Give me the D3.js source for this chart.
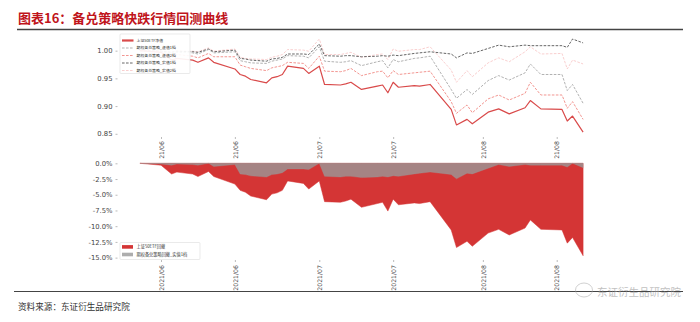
<!DOCTYPE html>
<html><head><meta charset="utf-8">
<script src="https://cdn.jsdelivr.net/npm/d3@7/dist/d3.min.js"></script>
<style>body{margin:0;background:#fff}svg{display:block}</style>
</head><body>
<svg id="c" width="700" height="322"></svg>
<script>
const dates = ["2021-05-28","2021-06-01","2021-06-03","2021-06-04","2021-06-07","2021-06-08","2021-06-10","2021-06-11","2021-06-15","2021-06-16","2021-06-17","2021-06-18","2021-06-21","2021-06-22","2021-06-23","2021-06-24","2021-06-25","2021-06-28","2021-06-29","2021-07-01","2021-07-02","2021-07-05","2021-07-06","2021-07-07","2021-07-09","2021-07-12","2021-07-13","2021-07-14","2021-07-15","2021-07-16","2021-07-19","2021-07-20","2021-07-22","2021-07-26","2021-07-27","2021-07-29","2021-07-30","2021-08-02","2021-08-04","2021-08-06","2021-08-09","2021-08-10","2021-08-12","2021-08-16","2021-08-17","2021-08-18","2021-08-20"];
const etf50 = [1.000,0.997,0.983,0.986,0.983,0.979,0.987,0.979,0.967,0.957,0.954,0.948,0.942,0.951,0.953,0.957,0.972,0.968,0.959,0.972,0.939,0.938,0.940,0.943,0.930,0.936,0.938,0.924,0.943,0.934,0.937,0.936,0.939,0.894,0.866,0.876,0.868,0.889,0.895,0.886,0.897,0.910,0.895,0.894,0.873,0.882,0.853];
const otm1 = [1.000,0.999,0.995,0.997,0.996,0.994,1.002,0.996,0.998,0.982,0.980,0.978,0.977,0.981,0.983,0.985,0.991,0.990,0.987,1.007,0.981,0.979,0.980,0.982,0.973,0.980,0.982,0.969,0.984,0.980,0.986,0.987,0.990,0.930,0.914,0.930,0.921,0.946,0.955,0.947,0.960,0.976,0.957,0.957,0.928,0.939,0.905];
const otm2 = [1.000,0.998,0.990,0.993,0.990,0.987,0.995,0.989,0.989,0.974,0.971,0.968,0.964,0.969,0.971,0.973,0.979,0.977,0.968,0.990,0.963,0.962,0.964,0.968,0.955,0.962,0.963,0.951,0.964,0.957,0.960,0.961,0.963,0.908,0.887,0.902,0.888,0.913,0.920,0.911,0.923,0.943,0.920,0.920,0.896,0.908,0.876];
const itm1 = [1.000,0.999,0.997,0.999,0.998,0.997,1.003,0.998,1.001,0.986,0.985,0.983,0.981,0.985,0.986,0.988,0.994,0.994,0.993,1.012,0.991,0.990,0.991,0.991,0.989,0.990,0.991,0.990,0.992,0.991,0.995,0.996,0.998,0.994,0.987,0.996,0.995,1.004,1.010,1.007,1.010,1.009,1.009,1.009,1.006,1.021,1.014];
const itm2 = [1.000,1.000,0.998,1.000,0.999,0.998,1.005,0.999,1.003,0.988,0.986,0.985,0.984,0.988,0.990,0.993,1.002,1.001,0.999,1.021,0.993,0.993,0.995,0.997,0.988,0.993,0.994,0.984,1.003,0.999,1.002,1.002,1.007,0.965,0.943,0.964,0.953,0.978,0.987,0.980,0.998,1.007,0.994,0.995,0.967,0.983,0.976];

const seriesNames = ["上证50ETF净值","期权备兑策略_虚值1档","期权备兑策略_虚值2档","期权备兑策略_实值1档","期权备兑策略_实值2档"];
const ddNames = ["上证50ETF回撤","期权备兑策略回撤_实值1档"];
const xTicks = ["2021-06-01","2021-06-15","2021-07-01","2021-07-15","2021-08-01","2021-08-15"];
const yTopTicks = [0.85,0.90,0.95,1.00];
const yBotTicks = [0,-0.025,-0.05,-0.075,-0.10,-0.125,-0.15];
const titleText = "图表16：备兑策略快跌行情回测曲线";
const sourceText = "资料来源：东证衍生品研究院";
const watermarkText = "东证衍生品研究院";

const parse = d3.timeParse("%Y-%m-%d");
const D = dates.map(parse);
const svg = d3.select("#c");

const x = d3.scaleTime().domain([parse("2021-05-24"), parse("2021-08-24")]).range([118.8, 604.2]);
const yT = d3.scaleLinear().domain([0.846, 1.029]).range([136.0, 34.6]);
const yB = d3.scaleLinear().domain([-0.153, 0.0075]).range([259.5, 158.6]);

// Title & frame lines
svg.append("text").attr("x",18).attr("y",23).attr("fill","#c0141b")
  .attr("font-family","'Noto Sans CJK SC',sans-serif").attr("font-weight","bold").attr("font-size",13).text(titleText);
svg.append("line").attr("x1",17).attr("x2",683).attr("y1",29.5).attr("y2",29.5).attr("stroke","#444").attr("stroke-width",1.3);
svg.append("line").attr("x1",14).attr("x2",683).attr("y1",291.5).attr("y2",291.5).attr("stroke","#444").attr("stroke-width",1);
svg.append("text").attr("x",18).attr("y",309.5).attr("fill","#333")
  .attr("font-family","'Noto Sans CJK SC',sans-serif").attr("font-size",8.6).text(sourceText);

// Top lines
const line = v => d3.line().x((d,i)=>x(D[i])).y(d=>yT(d))(v);
const styles = [
  {v:etf50, c:"#d94a4a", w:1.2, dash:null},
  {v:otm1, c:"#a8a8a8", w:0.9, dash:"2.6,1.4"},
  {v:otm2, c:"#f08a84", w:0.9, dash:"2.6,1.4"},
  {v:itm1, c:"#555555", w:0.9, dash:"2.6,1.4"},
  {v:itm2, c:"#f8c9c9", w:0.9, dash:"2.6,1.4"}
];
const drawOrder = [4,3,1,2,0];
drawOrder.forEach(k=>{
  const s = styles[k];
  svg.append("path").attr("d",line(s.v)).attr("fill","none").attr("stroke",s.c)
    .attr("stroke-width",s.w).attr("stroke-dasharray",s.dash).attr("stroke-linejoin","round");
});

// Top axes
const fmtTick = sel => { sel.select(".domain").remove(); sel.selectAll("line").attr("stroke","#bbb"); sel.selectAll("text").attr("fill","#444"); };
svg.append("g").attr("transform","translate(117.5,0)")
  .call(d3.axisLeft(yT).tickValues(yTopTicks).tickFormat(d3.format(".2f")).tickSize(2).tickPadding(3))
  .attr("font-family","'DejaVu Sans',sans-serif").attr("font-size",6.8).call(fmtTick);
const xt = svg.append("g").attr("transform","translate(0,137)")
  .call(d3.axisBottom(x).tickValues(xTicks.map(parse)).tickFormat(d3.timeFormat("%y/%m")).tickSize(2))
  .attr("font-family","'DejaVu Sans',sans-serif").attr("font-size",6.2).call(fmtTick);
xt.selectAll("text").attr("transform","rotate(-90)").attr("text-anchor","end").attr("x",-4).attr("y",0).attr("dy","0.35em");

// Top legend
const lg = svg.append("g");
lg.append("rect").attr("x",120).attr("y",34).attr("width",70).attr("height",39.5).attr("fill","#fff").attr("fill-opacity",0.92).attr("stroke","#dcdcdc").attr("stroke-width",0.6).attr("rx",1);
styles.forEach((s,i)=>{
  const yy = 40.5 + i*7.5;
  lg.append("line").attr("x1",122).attr("x2",133.5).attr("y1",yy).attr("y2",yy).attr("stroke",s.c)
    .attr("stroke-width", i===0?2.2:0.9).attr("stroke-dasharray",s.dash);
  lg.append("text").attr("x",136.5).attr("y",yy).attr("dy","0.35em").attr("fill","#333")
    .attr("font-family","'Noto Sans CJK SC',sans-serif").attr("font-size",3.9).text(seriesNames[i]);
});

// Drawdowns
const dd = v => { let m=-Infinity; return v.map(d=>{ m=Math.max(m,d); return d/m-1; }); };
const ddRed = dd(etf50), ddGray = dd(itm1);
const area = v => d3.area().x((d,i)=>x(D[i])).y0(yB(0)).y1(d=>yB(d))(v);
svg.append("path").attr("d",area(ddRed)).attr("fill","#d43535").attr("stroke","#d43535").attr("stroke-width",0.5);
svg.append("path").attr("d",area(ddGray)).attr("fill","#999").attr("fill-opacity",0.8).attr("stroke","#999").attr("stroke-opacity",0.6).attr("stroke-width",0.5);

// Bottom axes
svg.append("g").attr("transform","translate(117.5,0)")
  .call(d3.axisLeft(yB).tickValues(yBotTicks).tickFormat(d=>(d*100).toFixed(1)+"%").tickSize(2).tickPadding(3))
  .attr("font-family","'DejaVu Sans',sans-serif").attr("font-size",6.8).call(fmtTick);
const xb = svg.append("g").attr("transform","translate(0,260)")
  .call(d3.axisBottom(x).tickValues(xTicks.map(parse)).tickFormat(d3.timeFormat("%Y/%m")).tickSize(2))
  .attr("font-family","'DejaVu Sans',sans-serif").attr("font-size",6.2).call(fmtTick);
xb.selectAll("text").attr("transform","rotate(-90)").attr("text-anchor","end").attr("x",-5).attr("y",0).attr("dy","0.35em");

// Bottom legend
const lb = svg.append("g");
lb.append("rect").attr("x",120).attr("y",242.5).attr("width",80).attr("height",17).attr("fill","#fff").attr("fill-opacity",0.92).attr("stroke","#dcdcdc").attr("stroke-width",0.6).attr("rx",1);
const ddCols = [{c:"#d43535",o:1},{c:"#999",o:0.8}];
ddNames.forEach((n,i)=>{
  const yy = 246.9 + i*7.6;
  lb.append("rect").attr("x",122).attr("y",yy-1.8).attr("width",11).attr("height",3.6).attr("fill",ddCols[i].c).attr("fill-opacity",ddCols[i].o);
  lb.append("text").attr("x",136.5).attr("y",yy).attr("dy","0.35em").attr("fill","#333")
    .attr("font-family","'Noto Sans CJK SC',sans-serif").attr("font-size",4.2).text(n);
});

// Watermark
const wm = svg.append("g").attr("opacity",0.6);
wm.append("ellipse").attr("cx",584).attr("cy",290).attr("rx",8.5).attr("ry",7).attr("fill","none").attr("stroke","#aaa").attr("stroke-width",0.9);
wm.append("text").attr("x",597).attr("y",296).attr("fill","#999").attr("font-family","'Noto Sans CJK SC',sans-serif").attr("font-size",10.5).text(watermarkText);
</script>
</body></html>
